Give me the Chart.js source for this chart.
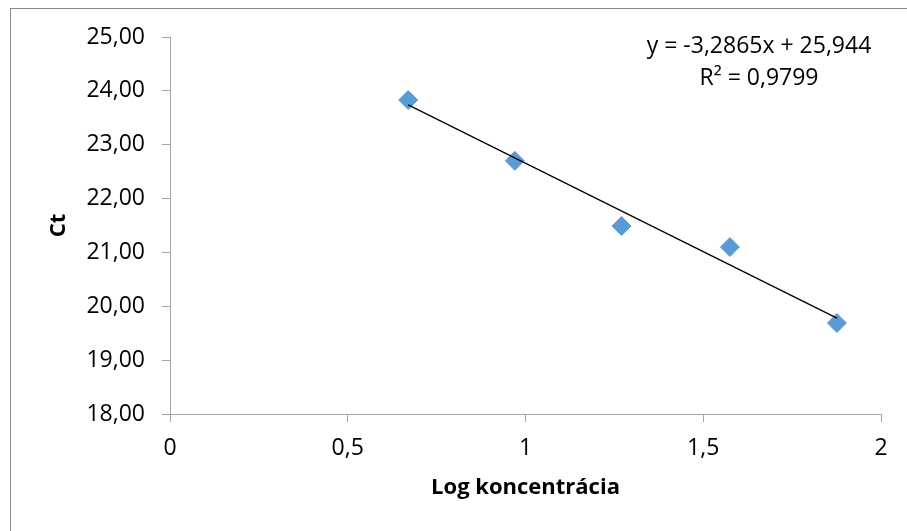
<!DOCTYPE html>
<html>
<head>
<meta charset="utf-8">
<script src="https://cdn.jsdelivr.net/npm/chart.js@4/dist/chart.umd.min.js"></script>
<style>
  html, body { margin: 0; padding: 0; background: #fff; overflow: hidden; }
  #wrap { position: relative; width: 907px; height: 531px; }
  #frame { position: absolute; left: 10px; top: 8px; width: 1000px; height: 600px; border: 1px solid #898989; }
  #chart { position: absolute; left: 0; top: 0; }
</style>
</head>
<body>
<div id="wrap">
  <div id="frame"></div>
  <canvas id="chart" width="907" height="531"></canvas>
</div>
<script>
const logConc = [0.67, 0.97, 1.27, 1.575, 1.876];
const ctValues = [23.83, 22.70, 21.49, 21.10, 19.69];
const trendX = [0.67, 1.876];
const trendY = [23.74, 19.78];
const equation = ["y = -3,2865x + 25,944", "R² = 0,9799"];

const axisGray = "#A6A6A6";
const font = "'Open Sans', sans-serif";

const points = logConc.map((x, i) => ({ x: x, y: ctValues[i] }));
const trend = trendX.map((x, i) => ({ x: x, y: trendY[i] }));

const equationLabel = {
  id: "equationLabel",
  afterDraw(chart) {
    const c = chart.ctx;
    c.save();
    c.font = "23px " + font;
    c.fillStyle = "#000";
    c.textAlign = "center";
    c.textBaseline = "middle";
    c.fillText(equation[0], 759, 46);
    c.fillText(equation[1], 759, 78);
    c.restore();
  },
};

new Chart(document.getElementById("chart"), {
  type: "scatter",
  data: {
    datasets: [
      {
        type: "line",
        data: trend,
        borderColor: "#000",
        borderWidth: 1.3,
        pointRadius: 0,
        fill: false,
        order: 0,
      },
      {
        data: points,
        pointStyle: "rectRot",
        pointRadius: 9.5,
        pointBorderWidth: 1,
        backgroundColor: "#5B9BD5",
        borderColor: "#5B9BD5",
        order: 1,
      },
    ],
  },
  options: {
    responsive: false,
    animation: false,
    layout: { padding: { left: 0, right: 26, top: 37, bottom: 0 } },
    plugins: { legend: { display: false }, tooltip: { enabled: false } },
    scales: {
      x: {
        type: "linear",
        min: 0,
        max: 2,
        afterFit: (s) => { s.height = 117; },
        ticks: {
          stepSize: 0.5,
          color: "#000",
          padding: 13,
          font: { family: font, size: 23 },
          callback: (v) => String(v).replace(".", ","),
        },
        grid: { drawOnChartArea: false, drawTicks: true, tickLength: 8, color: axisGray },
        border: { display: true, color: axisGray },
        title: {
          display: true,
          text: "Log koncentrácia",
          color: "#000",
          font: { family: font, size: 22, weight: "bold" },
          padding: { top: 0, bottom: 30 },
        },
      },
      y: {
        type: "linear",
        min: 18,
        max: 25,
        afterFit: (s) => { s.width = 170; },
        ticks: {
          stepSize: 1,
          color: "#000",
          padding: 17,
          font: { family: font, size: 23 },
          callback: (v) => v.toFixed(2).replace(".", ","),
        },
        grid: { drawOnChartArea: false, drawTicks: true, tickLength: 8, color: axisGray },
        border: { display: true, color: axisGray },
        title: {
          display: true,
          text: "Ct",
          color: "#000",
          font: { family: font, size: 22, weight: "bold" },
          padding: { top: 46, bottom: 0 },
        },
      },
    },
  },
  plugins: [equationLabel],
});
</script>
</body>
</html>
